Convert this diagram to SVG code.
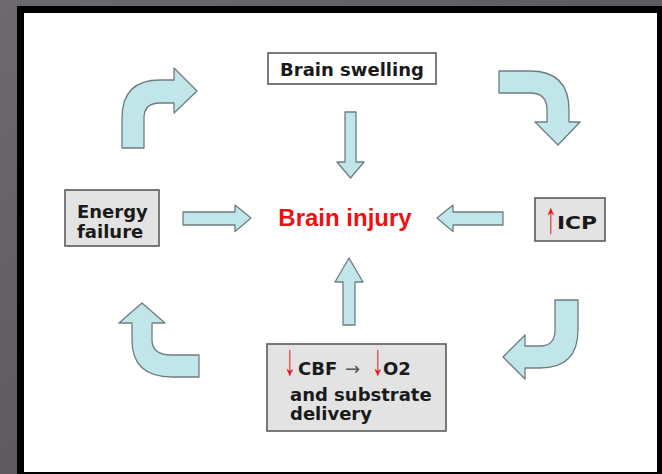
<svg xmlns="http://www.w3.org/2000/svg" width="662" height="474" viewBox="0 0 662 474">
<defs>
<linearGradient id="bg" x1="0" y1="0" x2="1" y2="1">
<stop offset="0" stop-color="#6c6a6e"/>
<stop offset="1" stop-color="#4f4d51"/>
</linearGradient>
<style>
.arr{fill:#c0e6ea;stroke:#6f7d80;stroke-width:1.3;stroke-linejoin:round}
.box{fill:#e3e3e3;stroke:#5a5a5a;stroke-width:1.6}
.wbox{fill:#ffffff;stroke:#5a5a5a;stroke-width:1.6}
.t{font-family:"DejaVu Sans",Verdana,sans-serif;font-weight:bold;font-size:18px;fill:#1a1a1a}
.ra{fill:#e8101a;font-family:"Liberation Sans",Arial,sans-serif;font-weight:normal;font-size:26px}
.thin{font-family:"DejaVu Sans",sans-serif;font-weight:normal;font-size:18px;fill:#555}
</style>
</defs>
<rect width="662" height="474" fill="url(#bg)"/>
<rect x="17" y="6" width="645" height="468" fill="#000"/>
<rect x="24" y="13" width="633" height="459" fill="#fff"/>
<g id="connectors">
<path class="arr" d="M122,148 L122,118 Q122,80 160,80 L174,80 L174,68 L197,91 L174,113 L174,103 L160,103 Q144,103 144,118 L144,148 Z"/>
<path class="arr" d="M499,71 L530,71 Q569,71 569,110 L569,122 L580,122 L558,145 L535,122 L547,122 L547,110 Q547,93 530,93 L499,93 Z"/>
<path class="arr" d="M555,300 L578,300 L578,330 Q578,368 540,368 L525,368 L525,379 L503,357 L525,335 L525,346 L540,346 Q555,346 555,330 Z"/>
<path class="arr" d="M199,355 L199,377 L172,377 Q132,377 132,340 L132,323 L119,323 L142,303 L165,323 L152,323 L152,340 Q152,355 172,355 Z"/>
<path class="arr" d="M345,112 L356,112 L356,162 L364,162 L350.5,178 L337,162 L345,162 Z"/>
<path class="arr" d="M343,325 L355,325 L355,282 L363,282 L349,258 L335,282 L343,282 Z"/>
<path class="arr" d="M183,212 L235,212 L235,205 L251,218 L235,231.5 L235,225 L183,225 Z"/>
<path class="arr" d="M503,212 L453,212 L453,205 L437,218 L453,231.5 L453,225 L503,225 Z"/>
</g>
<g id="brain-swelling">
<rect class="wbox" x="268" y="53" width="168" height="31"/>
<text class="t" x="352" y="76" text-anchor="middle">Brain swelling</text>
</g>
<g id="brain-injury">
<text x="345" y="226" text-anchor="middle" font-family="Liberation Sans, Arial, sans-serif" font-weight="bold" font-size="24" fill="#ee1111">Brain injury</text>
</g>
<g id="energy-failure">
<rect class="box" x="65" y="190" width="94" height="56"/>
<text class="t" x="77" y="218">Energy</text>
<text class="t" x="77" y="238">failure</text>
</g>
<g id="icp">
<rect class="box" x="535" y="198" width="70" height="43"/>
<text class="ra" transform="translate(545,233) scale(0.9,1.7)">↑</text>
<text class="t" x="557" y="229" font-size="19" textLength="40" lengthAdjust="spacingAndGlyphs">ICP</text>
</g>
<g id="cbf">
<rect class="box" x="267" y="344" width="179" height="87"/>
<text class="ra" transform="translate(284,375) scale(0.9,1.7)">↓</text>
<text class="t" x="298" y="375">CBF</text>
<text class="thin" x="345" y="375">→</text>
<text class="ra" transform="translate(372,375) scale(0.9,1.7)">↓</text>
<text class="t" x="383" y="375">O2</text>
<text class="t" x="290" y="401">and substrate</text>
<text class="t" x="290" y="420">delivery</text>
</g>
</svg>
